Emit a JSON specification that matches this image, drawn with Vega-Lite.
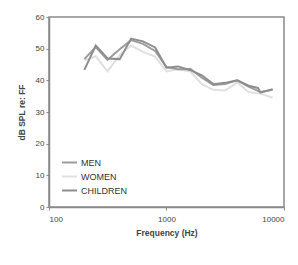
{
  "$schema": "https://vega.github.io/schema/vega-lite/v6.json",
  "autosize": {"type": "none"},
  "width": 235,
  "height": 190,
  "padding": {"left": 49, "top": 17, "right": 14, "bottom": 58},
  "background": "white",
  "config": {
    "font": "Liberation Sans",
    "view": {"stroke": "#8a8a8a", "strokeWidth": 1.5}
  },
  "data": {
    "values": [
      {"f": 200, "db": 46.3, "g": "WOMEN"},
      {"f": 250, "db": 47.6, "g": "WOMEN"},
      {"f": 315, "db": 42.8, "g": "WOMEN"},
      {"f": 400, "db": 48, "g": "WOMEN"},
      {"f": 500, "db": 51, "g": "WOMEN"},
      {"f": 630, "db": 49, "g": "WOMEN"},
      {"f": 800, "db": 47.5, "g": "WOMEN"},
      {"f": 1000, "db": 42.8, "g": "WOMEN"},
      {"f": 1250, "db": 43.5, "g": "WOMEN"},
      {"f": 1600, "db": 42.8, "g": "WOMEN"},
      {"f": 2000, "db": 38.8, "g": "WOMEN"},
      {"f": 2500, "db": 37, "g": "WOMEN"},
      {"f": 3150, "db": 36.8, "g": "WOMEN"},
      {"f": 4000, "db": 39.3, "g": "WOMEN"},
      {"f": 5000, "db": 36.3, "g": "WOMEN"},
      {"f": 6300, "db": 35.8, "g": "WOMEN"},
      {"f": 8000, "db": 34.5, "g": "WOMEN"},
      {"f": 200, "db": 46.7, "g": "MEN"},
      {"f": 250, "db": 50.5, "g": "MEN"},
      {"f": 315, "db": 46.5, "g": "MEN"},
      {"f": 400, "db": 49.8, "g": "MEN"},
      {"f": 500, "db": 52.7, "g": "MEN"},
      {"f": 630, "db": 51.5, "g": "MEN"},
      {"f": 800, "db": 49.3, "g": "MEN"},
      {"f": 1000, "db": 44.2, "g": "MEN"},
      {"f": 1250, "db": 43.5, "g": "MEN"},
      {"f": 1600, "db": 43.6, "g": "MEN"},
      {"f": 2000, "db": 40.8, "g": "MEN"},
      {"f": 2500, "db": 38.5, "g": "MEN"},
      {"f": 3150, "db": 38.8, "g": "MEN"},
      {"f": 4000, "db": 40, "g": "MEN"},
      {"f": 5000, "db": 38, "g": "MEN"},
      {"f": 6300, "db": 36.3, "g": "MEN"},
      {"f": 8000, "db": 37, "g": "MEN"},
      {"f": 200, "db": 43.3, "g": "CHILDREN"},
      {"f": 250, "db": 51, "g": "CHILDREN"},
      {"f": 315, "db": 46.9, "g": "CHILDREN"},
      {"f": 400, "db": 46.7, "g": "CHILDREN"},
      {"f": 500, "db": 53.2, "g": "CHILDREN"},
      {"f": 630, "db": 52.3, "g": "CHILDREN"},
      {"f": 800, "db": 50.4, "g": "CHILDREN"},
      {"f": 1000, "db": 44, "g": "CHILDREN"},
      {"f": 1250, "db": 44.4, "g": "CHILDREN"},
      {"f": 1600, "db": 43.2, "g": "CHILDREN"},
      {"f": 2000, "db": 41.6, "g": "CHILDREN"},
      {"f": 2500, "db": 38.8, "g": "CHILDREN"},
      {"f": 3150, "db": 39.2, "g": "CHILDREN"},
      {"f": 4000, "db": 40, "g": "CHILDREN"},
      {"f": 5000, "db": 38.3, "g": "CHILDREN"},
      {"f": 6000, "db": 37.6, "g": "CHILDREN"},
      {"f": 6300, "db": 36.1, "g": "CHILDREN"},
      {"f": 8000, "db": 37.2, "g": "CHILDREN"}
    ]
  },
  "mark": {"type": "line", "strokeWidth": 2},
  "encoding": {
    "x": {
      "field": "f",
      "type": "quantitative",
      "scale": {"type": "log", "domain": [100, 10000], "nice": false},
      "axis": {
        "title": "Frequency (Hz)",
        "values": [100, 1000, 10000],
        "format": "d",
        "grid": false,
        "domainColor": "#8a8a8a",
        "domainWidth": 1.5,
        "tickColor": "#8a8a8a",
        "tickSize": 3,
        "labelFontSize": 8,
        "labelColor": "#444",
        "labelPadding": 5,
        "titleFontSize": 8.5,
        "titleFontWeight": "bold",
        "titleColor": "#444",
        "titlePadding": 5
      }
    },
    "y": {
      "field": "db",
      "type": "quantitative",
      "scale": {"domain": [0, 60], "nice": false},
      "axis": {
        "title": "dB SPL re: FF",
        "values": [0, 10, 20, 30, 40, 50, 60],
        "grid": false,
        "domainColor": "#8a8a8a",
        "domainWidth": 1.5,
        "tickColor": "#8a8a8a",
        "tickSize": 3,
        "labelFontSize": 8,
        "labelColor": "#444",
        "labelPadding": 2,
        "titleFontSize": 8.5,
        "titleFontWeight": "bold",
        "titleColor": "#444",
        "titlePadding": 9
      }
    },
    "color": {
      "field": "g",
      "type": "nominal",
      "sort": ["MEN", "WOMEN", "CHILDREN"],
      "scale": {"domain": ["MEN", "WOMEN", "CHILDREN"], "range": ["#9c9c9c", "#e0e0e0", "#8e8e8e"]},
      "legend": {
        "title": null,
        "orient": "none",
        "legendX": 12,
        "legendY": 137,
        "symbolType": "stroke",
        "symbolSize": 225,
        "symbolStrokeWidth": 2,
        "labelFontSize": 9,
        "labelColor": "#333",
        "labelOffset": 3,
        "rowPadding": 0
      }
    }
  }
}
